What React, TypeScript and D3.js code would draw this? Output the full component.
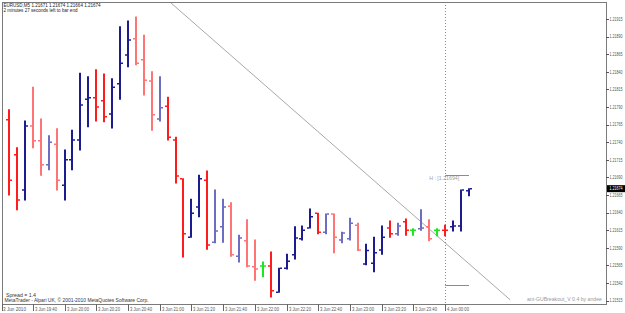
import React from "react";
import * as d3 from "d3";

const titleText = "EURUSD,M5  1.21671 1.21674 1.21664 1.21674";
const timerText = "2 minutes 27 seconds left to bar end";
const spreadText = "Spread = 1.4";
const copyrightText = "MetaTrader - Alpari UK, © 2001-2010 MetaQuotes Software Corp.";
const indicatorText = "ant-GUBreakout_V 0.4 by andee";
const highLabel = "H : [1.21694]";

// OHLC per M5 bar, bar 0 = 3 Jun 19:25
const opens = [1.21772, 1.21722, 1.21672, 1.21763, 1.21742, 1.21708, 1.21737, 1.21679, 1.21715, 1.21743, 1.21801, 1.21803, 1.21799, 1.21780, 1.21823, 1.21864, 1.21887, 1.21857, 1.21827, 1.21773, 1.21791, 1.21743, 1.21688, 1.21605, 1.21648, 1.21686, 1.21598, 1.21620, 1.21649, 1.21578, 1.21600, 1.21563, 1.21564, 1.21564, 1.21527, 1.21561, 1.21580, 1.21603, 1.21618, 1.21639, 1.21612, 1.21638, 1.21601, 1.21603, 1.21622, 1.21567, 1.21568, 1.21587, 1.21618, 1.21610, 1.21627, 1.21615, 1.21617, 1.21620, 1.21615, 1.21615, 1.21620, 1.21621, 1.21671];
const highs = [1.21786, 1.21732, 1.21770, 1.21818, 1.21773, 1.21749, 1.21759, 1.21729, 1.21757, 1.21838, 1.21833, 1.21843, 1.21837, 1.21830, 1.21904, 1.21912, 1.21918, 1.21892, 1.21840, 1.21833, 1.21804, 1.21747, 1.21688, 1.21659, 1.21693, 1.21699, 1.21672, 1.21659, 1.21654, 1.21608, 1.21630, 1.21601, 1.21570, 1.21584, 1.21561, 1.21581, 1.21620, 1.21621, 1.21645, 1.21639, 1.21638, 1.21638, 1.21612, 1.21632, 1.21625, 1.21595, 1.21605, 1.21621, 1.21628, 1.21625, 1.21631, 1.21617, 1.21644, 1.21630, 1.21617, 1.21622, 1.21628, 1.21672, 1.21674];
const lows = [1.21665, 1.21644, 1.21658, 1.21732, 1.21693, 1.21701, 1.21672, 1.21658, 1.21701, 1.21729, 1.21762, 1.21770, 1.21769, 1.21760, 1.21801, 1.21847, 1.21850, 1.21807, 1.21757, 1.21770, 1.21743, 1.21682, 1.21577, 1.21605, 1.21634, 1.21588, 1.21597, 1.21598, 1.21578, 1.21570, 1.21563, 1.21544, 1.21549, 1.21520, 1.21527, 1.21560, 1.21574, 1.21601, 1.21618, 1.21610, 1.21610, 1.21583, 1.21597, 1.21601, 1.21586, 1.21566, 1.21556, 1.21581, 1.21605, 1.21608, 1.21608, 1.21608, 1.21615, 1.21600, 1.21607, 1.21607, 1.21614, 1.21614, 1.21664];
const closes = [1.21686, 1.21658, 1.21763, 1.21742, 1.21708, 1.21740, 1.21686, 1.21715, 1.21743, 1.21793, 1.21803, 1.21790, 1.21776, 1.21818, 1.21852, 1.21885, 1.21852, 1.21828, 1.21779, 1.21789, 1.21747, 1.21692, 1.21610, 1.21639, 1.21688, 1.21594, 1.21614, 1.21648, 1.21580, 1.21604, 1.21564, 1.21560, 1.21564, 1.21529, 1.21561, 1.21571, 1.21604, 1.21615, 1.21634, 1.21612, 1.21638, 1.21605, 1.21611, 1.21625, 1.21587, 1.21586, 1.21583, 1.21605, 1.21610, 1.21621, 1.21615, 1.21615, 1.21618, 1.21603, 1.21615, 1.21615, 1.21621, 1.21672, 1.21674];
// R = red, r = light red, B = navy, b = light blue, G = green
const barStates = "RRBrrbrBBBBRRBBBrrrbRRRBBRbbrbrrGRBBBBBRbrbbrBBBRbRGbrGRBBB";

const timeLabels = ["3 Jun 19:40", "3 Jun 20:00", "3 Jun 20:20", "3 Jun 20:40", "3 Jun 21:00", "3 Jun 21:20", "3 Jun 21:40", "3 Jun 22:00", "3 Jun 22:20", "3 Jun 22:40", "3 Jun 23:00", "3 Jun 23:20", "3 Jun 23:40", "4 Jun 00:00"];
const timeLabelBars = [3, 7, 11, 15, 19, 23, 27, 31, 35, 39, 43, 47, 51, 55];
const firstDateLabel = "3 Jun 2010";
const priceTicks = [1.21515, 1.2154, 1.21565, 1.2159, 1.21615, 1.2164, 1.21665, 1.2169, 1.21715, 1.2174, 1.21765, 1.2179, 1.21815, 1.2184, 1.21865, 1.2189, 1.21915];
const currentPrice = 1.21674;
const breakoutHigh = 1.21694;
const breakoutLow = 1.21537;
const breakoutStartBar = 55;
const breakoutEndBar = 58;
const separatorBar = 55;
const trendBars = [20.3, 63.2];
const trendPrices = [1.21939, 1.21516];

const colorFor: Record<string, string> = {
  R: "#ff1c1c",
  r: "#ff7474",
  B: "#1c1c8e",
  b: "#6c6cc2",
  G: "#1ee61e",
};

const W = 625;
const H = 313;
const left = 2;
const top = 2;
const right = 606;
const bottom = 304;
const font = "'Liberation Sans', Arial, sans-serif";

function T(props: { x: number; y: number; len: number; fill: string; size?: number; anchor?: string; children: string }) {
  return (
    <text
      x={props.x}
      y={props.y}
      fontSize={props.size || 5.2}
      fill={props.fill}
      textLength={props.len}
      lengthAdjust="spacingAndGlyphs"
      textAnchor={props.anchor || "start"}
    >
      {props.children}
    </text>
  );
}

// price label squeezed horizontally with a transform so its box stays inside the page
function PriceLabel(props: { x: number; y: number; fill: string; children: string }) {
  return (
    <text
      transform={`translate(${props.x},${props.y}) scale(0.74,1)`}
      fontSize={4.9}
      fill={props.fill}
    >
      {props.children}
    </text>
  );
}

export default function App() {
  const x = d3.scaleLinear().domain([0, 58]).range([9, 469]);
  const y = d3.scaleLinear().domain([1.21515, 1.21915]).range([300.6, 19]);
  const fmt = d3.format(".5f");

  const bars = opens.map((o, i) => ({
    i,
    o,
    h: highs[i],
    l: lows[i],
    c: closes[i],
    col: colorFor[barStates[i]],
  }));

  const trendLine = d3
    .line<number>()
    .x((d, k) => x(trendBars[k]))
    .y((d) => y(d));

  return (
    <svg
      width={W}
      height={H}
      style={{ position: "fixed", left: 0, top: 0, background: "#fff" }}
      fontFamily={font}
    >
      <defs>
        <clipPath id="plot">
          <rect x={left} y={top} width={right - left} height={bottom - top} />
        </clipPath>
      </defs>
      <rect x={0} y={0} width={W} height={H} fill="#fff" />

      {/* period separator */}
      <line
        x1={Math.round(x(separatorBar)) + 0.5}
        x2={Math.round(x(separatorBar)) + 0.5}
        y1={top}
        y2={bottom}
        stroke="#8a8a8a"
        strokeWidth={1}
        strokeDasharray="1,2"
      />

      {/* trend line */}
      <g clipPath="url(#plot)">
        <path d={trendLine(trendPrices) || ""} stroke="#a8a8a8" strokeWidth={1} fill="none" />
      </g>

      {/* breakout levels */}
      {[breakoutHigh, breakoutLow].map((p, k) => (
        <line
          key={k}
          x1={x(breakoutStartBar)}
          x2={x(breakoutEndBar)}
          y1={Math.round(y(p)) + 0.5}
          y2={Math.round(y(p)) + 0.5}
          stroke="#8c8c8c"
          strokeWidth={1}
        />
      ))}
      <T x={x(breakoutStartBar) - 16} y={y(breakoutHigh) + 5} len={30} fill="#a0a0a0">
        {highLabel}
      </T>

      {/* bars */}
      {bars.map((b) => {
        const cx = Math.round(x(b.i));
        return (
          <g key={b.i} stroke={b.col}>
            <line x1={cx} x2={cx} y1={y(b.h) - 0.5} y2={y(b.l) + 0.5} strokeWidth={2} />
            <line x1={cx - 3} x2={cx - 1} y1={y(b.o)} y2={y(b.o)} strokeWidth={1.5} />
            <line x1={cx + 1} x2={cx + 3} y1={y(b.c)} y2={y(b.c)} strokeWidth={1.5} />
          </g>
        );
      })}

      {/* frame */}
      <rect
        x={left + 0.5}
        y={top + 0.5}
        width={right - left}
        height={bottom - top}
        fill="none"
        stroke="#7a7a7a"
        strokeWidth={1}
      />

      {/* price axis */}
      {priceTicks.map((p) => (
        <g key={p}>
          <line x1={right} x2={right + 3} y1={Math.round(y(p)) + 0.5} y2={Math.round(y(p)) + 0.5} stroke="#555" />
          <PriceLabel x={609.5} y={y(p) + 1.7} fill="#555">
            {fmt(p)}
          </PriceLabel>
        </g>
      ))}
      <rect x={right + 1} y={y(currentPrice) - 3.5} width={W - right - 1} height={7} fill="#000" />
      <PriceLabel x={609.5} y={y(currentPrice) + 1.7} fill="#fff">
        {fmt(currentPrice)}
      </PriceLabel>

      {/* time axis */}
      <T x={3} y={311} len={23} fill="#555">
        {firstDateLabel}
      </T>
      <line x1={2.5} x2={2.5} y1={bottom} y2={311} stroke="#666" />
      {timeLabels.map((t, k) => {
        const tx = Math.round(x(timeLabelBars[k])) + 0.5;
        return (
          <g key={t}>
            <line x1={tx} x2={tx} y1={bottom} y2={311} stroke="#666" />
            <T x={tx + 1.5} y={311} len={22} fill="#555">
              {t}
            </T>
          </g>
        );
      })}

      {/* texts */}
      <T x={3.5} y={7} len={97} fill="#222">
        {titleText}
      </T>
      <T x={3.5} y={12} len={74} fill="#222">
        {timerText}
      </T>
      <T x={6} y={296.5} len={30} fill="#333">
        {spreadText}
      </T>
      <T x={4.5} y={301.5} len={144} fill="#333">
        {copyrightText}
      </T>
      <T x={602} y={301} len={75} fill="#9a9a9a" anchor="end">
        {indicatorText}
      </T>
    </svg>
  );
}
